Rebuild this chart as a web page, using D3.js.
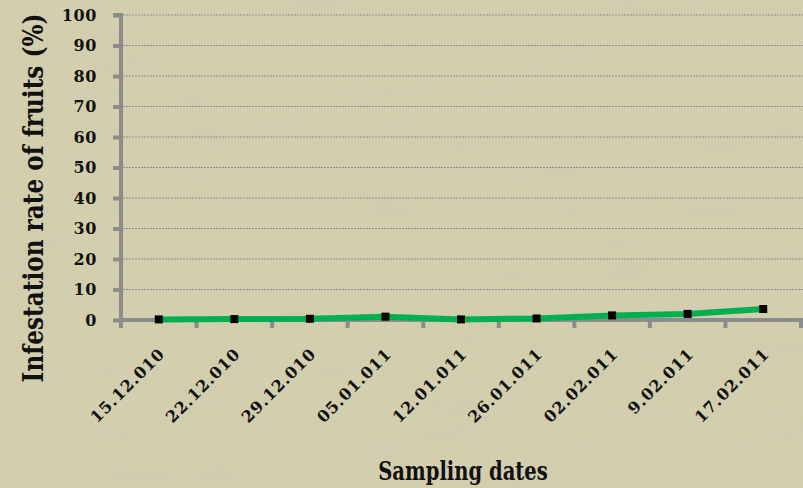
<!DOCTYPE html>
<html>
<head>
<meta charset="utf-8">
<script src="https://cdn.jsdelivr.net/npm/d3@7/dist/d3.min.js"></script>
<style>
  html, body { margin: 0; padding: 0; background: #d3cfae; }
  svg { display: block; }
  text { font-family: "DejaVu Serif", "Liberation Serif", serif; font-weight: bold; fill: #111; }
</style>
</head>
<body>
<svg id="chart" width="803" height="488"></svg>
<script>
// Sampling dates and fruit infestation rate (%)
const dates = ["15.12.010", "22.12.010", "29.12.010", "05.01.011", "12.01.011",
               "26.01.011", "02.02.011", "9.02.011", "17.02.011"];
const infestation = [0.2, 0.3, 0.4, 1.1, 0.2, 0.5, 1.5, 2.0, 3.6];
const yTicks = [0, 10, 20, 30, 40, 50, 60, 70, 80, 90, 100];

const W = 803, H = 488;
const margin = { left: 121, right: 2, top: 15, bottom: 168 };
const svg = d3.select("#chart");

// Parchment-like background with faint grain
const defs = svg.append("defs");
const f = defs.append("filter").attr("id", "grain").attr("x", 0).attr("y", 0).attr("width", 1).attr("height", 1);
f.append("feTurbulence").attr("type", "fractalNoise").attr("baseFrequency", "0.012 0.06").attr("numOctaves", 3).attr("seed", 7);
f.append("feColorMatrix").attr("type", "matrix")
  .attr("values", "0 0 0 0 0.55  0 0 0 0 0.53  0 0 0 0 0.42  0 0 0 -1.2 0.75");
f.append("feComposite").attr("in2", "SourceGraphic").attr("operator", "in");
svg.append("rect").attr("width", W).attr("height", H).attr("fill", "#d3cfae");
svg.append("rect").attr("width", W).attr("height", H).attr("fill", "#d3cfae").attr("filter", "url(#grain)").attr("opacity", 0.35);

const x = d3.scaleBand().domain(dates).range([margin.left, W - margin.right]).padding(0);
const y = d3.scaleLinear().domain([0, 100]).range([H - margin.bottom, margin.top]);
const y0 = y(0);

// Horizontal gridlines
svg.append("g").selectAll("line").data(yTicks.filter(d => d > 0)).join("line")
  .attr("x1", margin.left + 2).attr("x2", W)
  .attr("y1", d => y(d)).attr("y2", d => y(d))
  .attr("stroke", "#8f8f8f").attr("stroke-width", 1).attr("stroke-dasharray", "2,1");

// Y axis
const yAxis = d3.axisLeft(y).tickValues(yTicks).tickSize(8).tickPadding(16).tickFormat(d3.format("d"));
const gy = svg.append("g").attr("transform", `translate(${margin.left},0)`).call(yAxis);
gy.select(".domain").attr("stroke", "#8c8c8c").attr("stroke-width", 4).attr("d", `M-8,${y(100)}H0V${y0 + 8}`);
gy.selectAll(".tick line").attr("stroke", "#8c8c8c").attr("stroke-width", 4);
gy.selectAll(".tick text").attr("font-size", 16).attr("letter-spacing", 0.6).attr("fill", "#111");

// X axis
const xAxis = d3.axisBottom(x).tickSize(0).tickFormat("");
const gx = svg.append("g").attr("transform", `translate(0,${y0})`).call(xAxis);
gx.select(".domain").attr("stroke", "#8c8c8c").attr("stroke-width", 4)
  .attr("d", `M${margin.left},0H${W - margin.right}V8`);
// Boundary tick marks between categories
gx.append("g").selectAll("line").data(dates.slice(1)).join("line")
  .attr("x1", d => x(d)).attr("x2", d => x(d)).attr("y1", 0).attr("y2", 8)
  .attr("stroke", "#8c8c8c").attr("stroke-width", 4);

// Rotated date labels
svg.append("g").selectAll("text").data(dates).join("text")
  .attr("transform", d => `translate(${x(d) + x.bandwidth() / 2 + 7},${y0 + 35}) rotate(-45)`)
  .attr("text-anchor", "end")
  .attr("font-size", 16)
  .attr("letter-spacing", 0.9)
  .text(d => d);

// Line series
const cx = d => x(d) + x.bandwidth() / 2;
const line = d3.line().x((d, i) => cx(dates[i])).y(d => y(d));
svg.append("path").datum(infestation)
  .attr("fill", "none").attr("stroke", "#00b050").attr("stroke-width", 6)
  .attr("stroke-linejoin", "round").attr("d", line);

svg.append("g").selectAll("rect").data(infestation).join("rect")
  .attr("x", (d, i) => cx(dates[i]) - 4).attr("y", d => y(d) - 4)
  .attr("width", 8).attr("height", 8).attr("fill", "#000");

// Axis titles (tall lettering)
svg.append("text")
  .attr("transform", `translate(43,198) rotate(-90) scale(1.22,1.42)`)
  .attr("text-anchor", "middle").attr("font-size", 19)
  .text("Infestation rate of  fruits (%)");

svg.append("text")
  .attr("transform", `translate(463,480) scale(1.03,1.38)`)
  .attr("text-anchor", "middle").attr("font-size", 19)
  .text("Sampling dates");
</script>
</body>
</html>
